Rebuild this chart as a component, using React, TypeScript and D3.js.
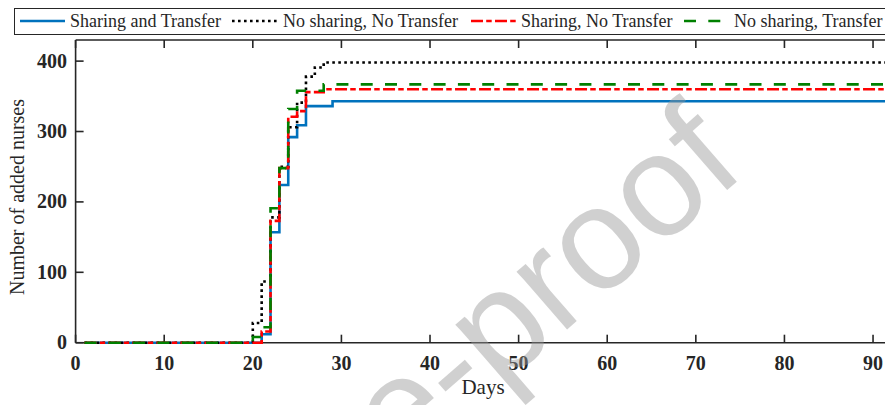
import React from 'react';
import * as d3 from 'd3';

// change points of each stairs series (day, added nurses); value holds until next day listed
const blueDays = [1, 21, 22, 23, 24, 25, 26, 29, 92];
const blueVals = [0, 12, 157, 224, 292, 309, 336, 343, 343];

const blackDays = [1, 20, 21, 22, 23, 24, 25, 26, 27, 28, 92];
const blackVals = [0, 28, 87, 178, 250, 306, 341, 378, 391, 398, 398];

const redDays = [1, 21, 22, 23, 24, 25, 26, 28, 92];
const redVals = [0, 16, 173, 248, 321, 329, 356, 360, 360];

const greenDays = [1, 20, 21, 22, 23, 24, 25, 28, 92];
const greenVals = [0, 8, 22, 191, 248, 332, 358, 367, 367];

const legendLabels = ['Sharing and Transfer', 'No sharing, No Transfer', 'Sharing, No Transfer', 'No sharing, Transfer'];
const xTicks = [0, 10, 20, 30, 40, 50, 60, 70, 80, 90];
const yTicks = [0, 100, 200, 300, 400];

const W = 885;
const H = 405;
const margin = { top: 40, left: 75.6, bottom: 62.3 };
const axisColor = '#262626';
const serif = '"Liberation Serif", "Times New Roman", serif';

const series = [
  { days: blueDays, vals: blueVals, color: '#0072BD', dash: undefined, label: legendLabels[0] },
  { days: blackDays, vals: blackVals, color: '#000000', dash: '2.6,3.4', label: legendLabels[1] },
  { days: redDays, vals: redVals, color: '#FF0000', dash: '12,3.2,5.5,3.3', label: legendLabels[2] },
  { days: greenDays, vals: greenVals, color: '#008000', dash: '12,12.3', label: legendLabels[3] },
];

// legend sample positions (x start, x end, text x)
const legendPos = [
  [20, 65, 70],
  [232, 278, 283],
  [471, 516, 521],
  [684, 721, 734],
];

export default function App() {
  const x = d3.scaleLinear().domain([0, 91.35]).range([margin.left, W]);
  const y = d3.scaleLinear().domain([0, 430]).range([H - margin.bottom, margin.top]);
  const line = d3
    .line<[number, number]>()
    .x((d) => x(d[0]))
    .y((d) => y(d[1]))
    .curve(d3.curveStepAfter);

  const y0 = y(0);

  return (
    <svg width={W} height={H} style={{ position: 'absolute', left: 0, top: 0, background: '#fff' }}>
      {/* plot box */}
      <line x1={margin.left} x2={W} y1={y0} y2={y0} stroke={axisColor} strokeWidth={1.6} />
      <line x1={margin.left} x2={W} y1={margin.top} y2={margin.top} stroke={axisColor} strokeWidth={1.6} />
      <line x1={margin.left} x2={margin.left} y1={margin.top} y2={y0} stroke={axisColor} strokeWidth={1.6} />

      {xTicks.map((t) => (
        <g key={'x' + t}>
          <line x1={x(t)} x2={x(t)} y1={y0} y2={y0 - 8} stroke={axisColor} strokeWidth={1.6} />
          <line x1={x(t)} x2={x(t)} y1={margin.top} y2={margin.top + 8} stroke={axisColor} strokeWidth={1.6} />
          <text x={x(t)} y={370} textAnchor="middle" fontFamily={serif} fontWeight="bold" fontSize={20} fill={axisColor}>
            {t}
          </text>
        </g>
      ))}
      {yTicks.map((t) => (
        <g key={'y' + t}>
          <line x1={margin.left} x2={margin.left + 8} y1={y(t)} y2={y(t)} stroke={axisColor} strokeWidth={1.6} />
          <text x={67} y={y(t) + 6.5} textAnchor="end" fontFamily={serif} fontWeight="bold" fontSize={20} fill={axisColor}>
            {t}
          </text>
        </g>
      ))}

      <text x={483} y={394} textAnchor="middle" fontFamily={serif} fontSize={21} fill={axisColor}>
        Days
      </text>
      <text transform="translate(24,197) rotate(-90)" textAnchor="middle" fontFamily={serif} fontSize={20} fill={axisColor}>
        Number of added nurses
      </text>

      {series.map((s) => (
        <path
          key={s.label}
          d={line(s.days.map((d, i) => [d, s.vals[i]] as [number, number])) || ''}
          fill="none"
          stroke={s.color}
          strokeWidth={2.6}
          strokeDasharray={s.dash}
        />
      ))}

      {/* legend */}
      <rect x={14.5} y={8.5} width={W} height={26} fill="#fff" stroke={axisColor} strokeWidth={1} />
      {series.map((s, i) => (
        <g key={'lg' + i}>
          <line x1={legendPos[i][0]} x2={legendPos[i][1]} y1={21} y2={21} stroke={s.color} strokeWidth={2.6} strokeDasharray={s.dash} />
          <text x={legendPos[i][2]} y={27} fontFamily={serif} fontSize={18} fill={axisColor}>
            {s.label}
          </text>
        </g>
      ))}

      {/* watermark */}
      <text
        transform="translate(748,172) rotate(-41)"
        textAnchor="end"
        fontFamily='"Liberation Sans", Arial, sans-serif'
        fontSize={145}
        fill="#999"
        opacity={0.45}
      >
        Journal Pre-proof
      </text>
    </svg>
  );
}
